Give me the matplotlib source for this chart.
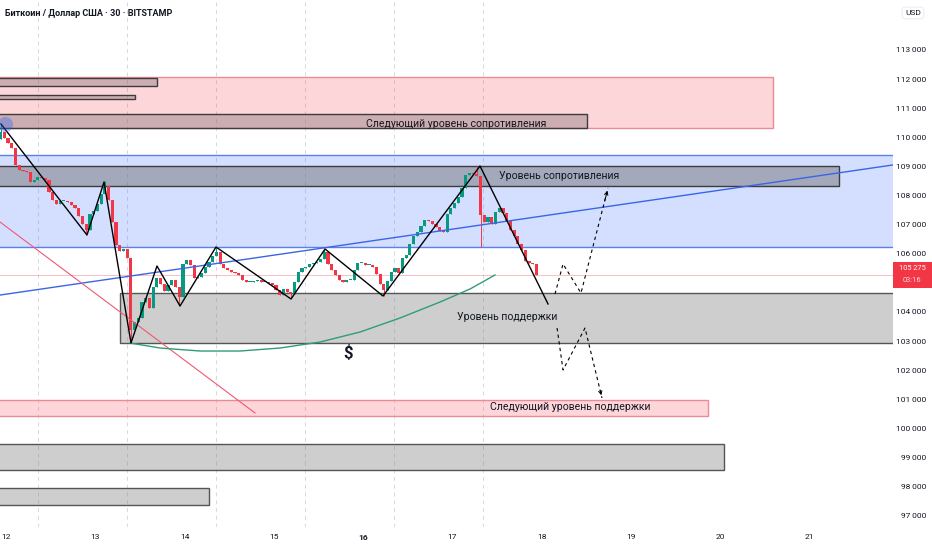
import numpy as np
import matplotlib.pyplot as plt
from matplotlib.patches import Rectangle

plt.rcParams['font.family'] = ['Roboto', 'DejaVu Sans']

# hourly candles (BTC/USD)
t0 = 11.94
step = 1 / 24
first_open = 109950
closes = [
    110180, 109980, 109800, 109630, 109050, 108880, 108840, 108810, 108460, 108530,
    108640, 108600, 108530, 108120, 107850, 107710, 107810, 107810, 107780, 107670,
    107570, 107300, 107020, 106820, 107370, 107470, 107710, 108050, 108330, 107850,
    107090, 106300, 106090, 106160, 105850, 103380, 103650, 103790, 104340, 104480,
    104140, 104860, 105170, 104960, 104720, 104930, 105100, 104860, 104510, 105650,
    105780, 105610, 105170, 105200, 105340, 105540, 105720, 105920, 106060, 105650,
    105510, 105440, 105370, 105340, 105270, 105100, 105030, 105030, 105060, 105100,
    105030, 105030, 104990, 104930, 104750, 104580, 104790, 104690, 104620, 105030,
    105370, 105510, 105540, 105650, 105680, 105720, 105820, 106060, 105650, 105440,
    105270, 105100, 105030, 105100, 105100, 105440, 105680, 105680, 105610, 105610,
    105540, 105300, 104960, 104750, 105060, 105370, 105510, 105340, 105850, 105960,
    106330, 106610, 106750, 106950, 107160, 107120, 107020, 106920, 106780, 106750,
    107370, 107570, 107740, 107950, 108260, 108710, 108770, 108740, 108670, 107330,
    107090, 107260, 107020, 107430, 107570, 107400, 107120, 106820, 106610, 106330,
    106130, 105750, 105680, 105650, 105275,
]
wick_highs = {0: 110460, 28: 108500, 58: 106230, 87: 106160, 128: 109010}
wick_lows = {23: 106640, 35: 102930, 48: 104200, 78: 104500, 103: 104550, 129: 106230}

# drawn zones: start day, end day, low price, high price
pink_zones = [(11.9, 20.59, 110320, 112070), (11.9, 19.86, 100420, 100970)]
pink_bars = [(11.9, 13.69, 111760, 112040), (11.9, 13.445, 111320, 111450),
             (11.9, 18.51, 110320, 110800)]
blue_zone = (11.9, 22.5, 106230, 109390)
gray_zones = [(11.9, 21.33, 108330, 109010), (13.277, 22.5, 102930, 104650),
              (11.9, 20.04, 98570, 99460), (11.9, 14.273, 97370, 97950)]

zigzag_days = [11.944, 12.907, 13.098, 13.400, 13.691, 13.949, 14.352,
               15.192, 15.573, 16.222, 17.308, 18.070]
zigzag_prices = [110457, 106643, 108465, 102932, 105578, 104204, 106231,
                 104444, 106162, 104547, 109014, 104273]

path_up_days = [18.148, 18.238, 18.439, 18.742]
path_up_prices = [104616, 105647, 104650, 108258]
path_down_days = [18.171, 18.238, 18.484, 18.674]
path_down_prices = [103448, 102005, 103448, 101043]

arc_days = [13.389, 13.725, 14.173, 14.621, 15.069, 15.517, 15.965, 16.412,
            16.861, 17.197, 17.476]
arc_prices = [102932, 102760, 102657, 102657, 102760, 102966, 103310, 103791,
              104341, 104788, 105269]

blue_trend = [(11.933, 104580), (21.933, 109050)]
red_trend = [(11.933, 107090), (14.789, 100527)]

grid_days = [12.359, 13.355, 14.352, 15.349, 16.345, 17.342]
day_ticks = [12, 13, 14, 15, 16, 17, 18, 19, 20, 21]
# 105 000 sits under the live price tag, so it is not shown
price_ticks = [97000, 98000, 99000, 100000, 101000, 102000, 103000, 104000,
               106000, 107000, 108000, 109000, 110000, 111000, 112000, 113000]

labels = [
    (17.04, 110450, 'Следующий уровень сопротивления'),
    (18.193, 108670, 'Уровень сопротивления'),
    (17.611, 103830, 'Уровень поддержки'),
    (18.316, 100730, 'Следующий уровень поддержки'),
]

fig = plt.figure(figsize=(9.32, 5.5), dpi=100)
ax = fig.add_axes([0, 23 / 550, 893 / 932, 527 / 550])
ax.set_xlim(11.933, 21.933)
ax.set_ylim(96610, 114718)

ax.vlines(grid_days, 96610, 114718, colors='#d5d8e0',
          linestyles=(0, (4, 4)), lw=0.7, zorder=0)


def add_box(zone, fc, ec, lw=1.0, z=1):
    x0, x1, lo, hi = zone
    ax.add_patch(Rectangle((x0, lo), x1 - x0, hi - lo, fc=fc, ec=ec, lw=lw, zorder=z))


pink_fc = (242 / 255, 54 / 255, 69 / 255, 0.2)
for zone in pink_zones:
    add_box(zone, pink_fc, '#ee8a95')
for zone in pink_bars:
    add_box(zone, (0.45, 0.4, 0.42, 0.35), '#3c3c3c', z=1.5)
add_box(blue_zone, (41 / 255, 98 / 255, 1, 0.2), '#5b80ea')
add_box(gray_zones[0], (0.45, 0.45, 0.47, 0.5), '#3c3c3c', z=1.5)
for zone in gray_zones[1:]:
    add_box(zone, (0.5, 0.5, 0.5, 0.38), '#555555')

# current price line
ax.axhline(closes[-1], color='#f23645', lw=0.5, alpha=0.45, zorder=1.6)

# candles
opens = [first_open] + closes[:-1]
times = [t0 + i * step for i in range(len(closes))]
body_lo = [min(o, c) for o, c in zip(opens, closes)]
highs = [max(o, c) for o, c in zip(opens, closes)]
lows = list(body_lo)
for i, v in wick_highs.items():
    highs[i] = v
for i, v in wick_lows.items():
    lows[i] = v
colors = ['#089981' if c >= o else '#f23645' for o, c in zip(opens, closes)]
ax.vlines(times, lows, highs, colors=colors, lw=0.7, zorder=3)
bodies = [max(abs(c - o), 30) for o, c in zip(opens, closes)]
ax.bar(times, bodies, bottom=body_lo, width=step * 0.85, color=colors, zorder=3.1)

# trend lines and drawings
ax.axline(blue_trend[0], blue_trend[1], color='#3a66e6', lw=1.0, zorder=4)
ax.plot(*zip(*red_trend), color='#ee5a72', lw=0.8, zorder=4)
ax.plot(arc_days, arc_prices, color='#2f9d76', lw=1.0, zorder=4)
ax.plot(zigzag_days, zigzag_prices, color='black', lw=1.0, zorder=5)
ax.scatter([zigzag_days[0] + 0.04], [zigzag_prices[0]], s=120,
           color=(41 / 255, 98 / 255, 1, 0.35), zorder=6, lw=0)

for days, prices in [(path_up_days, path_up_prices), (path_down_days, path_down_prices)]:
    ax.plot(days, prices, color='black', lw=0.8, ls=(0, (3, 3)), zorder=5)
    x1, y1 = days[-1], prices[-1]
    x0, y0 = days[-2], prices[-2]
    ax.annotate('', xy=(x1, y1), xytext=(x1 - 0.15 * (x1 - x0), y1 - 0.15 * (y1 - y0)),
                arrowprops=dict(arrowstyle='->', lw=0.7, mutation_scale=6), zorder=5)

for x, y, s in labels:
    ax.text(x, y, s, ha='center', va='center', fontsize=7.6, color='#131722', zorder=7)
ax.text(15.83, 102590, '$', ha='center', va='center', fontsize=12,
        fontweight='bold', color='#131722', zorder=7)

# axes
ax.yaxis.tick_right()
ax.set_yticks(price_ticks)
ax.set_yticklabels([f'{p // 1000}\u2009000' for p in price_ticks])
ax.tick_params(axis='y', length=0, pad=24, labelsize=6, colors='#131722')
for lab in ax.get_yticklabels():
    lab.set_ha('right')
ax.set_xticks(day_ticks)
ax.set_xticklabels([str(d) for d in day_ticks])
ax.tick_params(axis='x', length=0, pad=5, labelsize=6, colors='#131722')
ax.get_xticklabels()[4].set_fontweight('bold')
for sp in ax.spines.values():
    sp.set_visible(False)

# price tag on the axis
y_tag = fig.transFigure.inverted().transform(ax.transData.transform((20, closes[-1])))[1]
fig.patches.append(Rectangle((893 / 932, y_tag - 13 / 550), 39 / 932, 26 / 550,
                             transform=fig.transFigure, fc='#f23645', ec='none', zorder=5))
fig.text(912 / 932, y_tag + 6 / 550, f'{closes[-1] // 1000}\u2009{closes[-1] % 1000}',
         ha='center', va='center', color='white', fontsize=5.4, zorder=6)
fig.text(912 / 932, y_tag - 6 / 550, '03:16', ha='center', va='center',
         color='#ffd6da', fontsize=5.4, zorder=6)

fig.text(5 / 932, 1 - 14 / 550, 'Биткоин / Доллар США · 30 · BITSTAMP',
         fontsize=6.5, fontweight='bold', color='#131722', va='center')
fig.text(913 / 932, 1 - 13 / 550, 'USD', fontsize=6, color='#131722', ha='center',
         va='center', bbox=dict(boxstyle='round,pad=0.35', fc='white', ec='#e6e8ee', lw=0.6))

fig.savefig('out.png', dpi=100)
